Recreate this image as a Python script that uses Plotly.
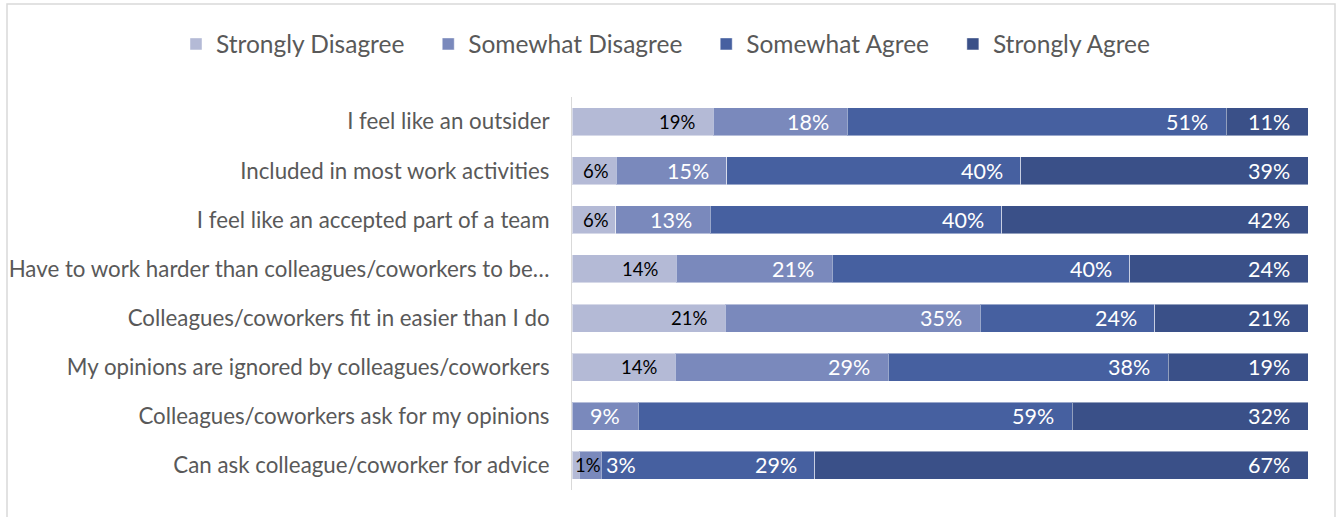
import plotly.graph_objects as go

# Survey statements (top to bottom)
categories = [
    "I feel like an outsider",
    "Included in most work activities",
    "I feel like an accepted part of a team",
    "Have to work harder than colleagues/coworkers to be…",
    "Colleagues/coworkers fit in easier than I do",
    "My opinions are ignored by colleagues/coworkers",
    "Colleagues/coworkers ask for my opinions",
    "Can ask colleague/coworker for advice",
]

# Share of responses per statement (%)
strongly_disagree = [19, 6, 6, 14, 21, 14, 0, 1]
somewhat_disagree = [18, 15, 13, 21, 35, 29, 9, 3]
somewhat_agree = [51, 40, 40, 40, 24, 38, 59, 29]
strongly_agree = [11, 39, 42, 24, 21, 19, 32, 67]

series_names = ["Strongly Disagree", "Somewhat Disagree", "Somewhat Agree", "Strongly Agree"]
series_values = [strongly_disagree, somewhat_disagree, somewhat_agree, strongly_agree]
series_colors = ["#B4BAD6", "#7A89BC", "#4660A0", "#3A5088"]
label_colors = ["#000000", "#FFFFFF", "#FFFFFF", "#FFFFFF"]
label_sizes = [18.5, 21.5, 21.5, 21.5]

FONT = "Lato"
W, H = 1344, 517
ML, MR, MT, MB = 572, 36, 97, 27
PW = W - ML - MR
PH = H - MT - MB
px_per_unit = PW / 100.0

fig = go.Figure()
for name, vals, col in zip(series_names, series_values, series_colors):
    fig.add_trace(go.Bar(
        y=categories,
        x=vals,
        name=name + "\u00a0" * 3,
        orientation="h",
        marker=dict(color=col, line=dict(color="rgba(255,255,255,0.45)", width=1)),
        hoverinfo="skip",
    ))


def text_width(label, size):
    # rough advance width for Lato digits and percent sign
    w = 0.0
    for ch in label:
        w += 0.80 if ch == "%" else 0.58
    return w * size


# Data labels, placed near the inside end of each segment
annotations = []
for i in range(len(categories)):
    total = sum(vals[i] for vals in series_values)
    cum = 0.0
    prev_right = -1e9
    for vals, tcol, tsize in zip(series_values, label_colors, label_sizes):
        v = vals[i]
        start = cum / total * 100
        cum += v
        end = cum / total * 100
        if v == 0:
            continue
        label = f"{v}%"
        tw = text_width(label, tsize)
        seg_w = (end - start) * px_per_unit
        pad = max(2, min(16, seg_w - tw - 13))
        right_px = end * px_per_unit - pad
        left_px = right_px - tw
        clamp = max(start * px_per_unit + 1, prev_right + 5)
        if left_px < clamp:
            left_px = clamp
            ann = dict(x=left_px / px_per_unit, xanchor="left")
        else:
            ann = dict(x=end, xanchor="right", xshift=-pad)
        ann.update(y=categories[i], yanchor="middle", showarrow=False,
                   text=label, font=dict(family=FONT, size=tsize, color=tcol))
        annotations.append(ann)
        prev_right = left_px + tw

fig.update_layout(
    width=W,
    height=H,
    barmode="stack",
    barnorm="percent",
    bargap=0.43,
    margin=dict(l=ML, r=MR, t=MT, b=MB, autoexpand=False),
    paper_bgcolor="white",
    plot_bgcolor="white",
    font=dict(family=FONT, color="#595959"),
    showlegend=True,
    legend=dict(
        orientation="h",
        xref="paper",
        yref="paper",
        x=(176 - ML) / PW,
        xanchor="left",
        y=1 + (MT - 44) / PH,
        yanchor="middle",
        font=dict(family=FONT, size=24.5, color="#595959"),
        traceorder="normal",
        bgcolor="rgba(0,0,0,0)",
    ),
    xaxis=dict(range=[0, 100], visible=False, fixedrange=True),
    yaxis=dict(
        autorange="reversed",
        automargin=False,
        showline=True,
        linecolor="#D9D9D9",
        linewidth=1,
        ticks="",
        ticklabelstandoff=17,
        tickfont=dict(family=FONT, size=22.3, color="#595959"),
        showgrid=False,
    ),
    annotations=annotations,
    shapes=[dict(
        type="rect",
        xref="paper",
        yref="paper",
        x0=(7 - ML) / PW,
        x1=(1335 - ML) / PW,
        y0=-0.2,
        y1=1 + (MT - 4) / PH,
        line=dict(color="#D9D9D9", width=1.5),
        layer="below",
    )],
)

fig.write_html("out.html")
